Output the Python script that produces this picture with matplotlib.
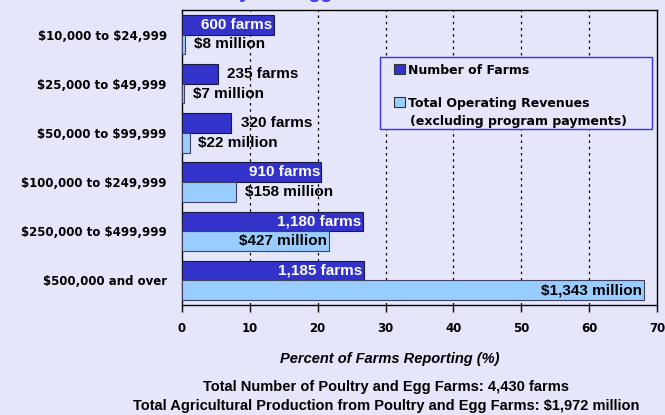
import matplotlib.pyplot as plt
from matplotlib.patches import Rectangle

# sales classes, top to bottom
classes = ["$10,000 to $24,999", "$25,000 to $49,999", "$50,000 to $99,999",
           "$100,000 to $249,999", "$250,000 to $499,999", "$500,000 and over"]
farms = [600, 235, 320, 910, 1180, 1185]
revenue = [8, 7, 22, 158, 427, 1343]          # $ million
total_farms = 4430
total_revenue = 1972
farm_labels = ["600 farms", "235 farms", "320 farms", "910 farms", "1,180 farms", "1,185 farms"]
rev_labels = ["$8 million", "$7 million", "$22 million", "$158 million", "$427 million", "$1,343 million"]
farm_inside = [True, False, False, True, True, True]
rev_inside = [False, False, False, False, True, True]

BG = "#E6E6FA"
DARK = "#3333CC"
LIGHT = "#99CCFF"

farm_pct = [f / total_farms * 100 for f in farms]
rev_pct = [r / total_revenue * 100 for r in revenue]

fig = plt.figure(figsize=(6.65, 4.15), dpi=100, facecolor=BG)
ax = fig.add_axes([182 / 665, 1 - 305 / 415, 475 / 665, 295 / 415])
ax.set_facecolor(BG)

pos = list(range(len(classes)))
ax.barh([p - 0.2 for p in pos], farm_pct, height=0.4, color=DARK, edgecolor="#1a1a40", lw=0.8, zorder=3)
ax.barh([p + 0.2 for p in pos], rev_pct, height=0.4, color=LIGHT, edgecolor="#404060", lw=0.8, zorder=3)

lab = dict(family="Liberation Sans", weight="bold", fontsize=11, va="center", zorder=4, parse_math=False)
for p, v, t, inside in zip(pos, farm_pct, farm_labels, farm_inside):
    if inside:
        ax.text(v - 0.2, p - 0.2, t, ha="right", color="white", **lab)
    else:
        ax.text(v + 1.4, p - 0.2, t, ha="left", color="black", **lab)
for p, v, t, inside in zip(pos, rev_pct, rev_labels, rev_inside):
    if inside:
        ax.text(v - 0.3, p + 0.2, t, ha="right", color="black", **lab)
    else:
        ax.text(v + 1.3, p + 0.2, t, ha="left", color="black", **lab)

ax.set_xlim(0, 70)
ax.set_ylim(5.5, -0.5)
ax.set_yticks(pos)
ax.set_yticklabels(classes, family="DejaVu Sans", weight="bold", fontsize=8.5, parse_math=False)
ax.tick_params(axis="y", length=0, pad=11)
ax.set_xticks(range(0, 71, 10))
ax.set_xticklabels([str(x) for x in range(0, 71, 10)], family="DejaVu Sans", weight="bold", fontsize=8.5)
ax.tick_params(axis="x", direction="out", length=5, width=1, pad=7)
for s in ax.spines.values():
    s.set_color("black")
    s.set_linewidth(1)
for x in range(10, 70, 10):
    ax.axvline(x, color="black", lw=0.9, ls=(0, (2, 3)), zorder=1)


# legend, drawn by hand so the square sits on the first line of text
def px(x, y):
    return ((x - 182) / 475, 1 - (y - 10) / 295)


x0, y0 = px(380, 129)
x1, y1 = px(652, 57)
ax.add_patch(Rectangle((x0, y0), x1 - x0, y1 - y0, transform=ax.transAxes,
                       facecolor=BG, edgecolor="#3333FF", lw=1, zorder=5))
leg = dict(family="DejaVu Sans", weight="bold", fontsize=9, va="center", ha="left",
           transform=ax.transAxes, zorder=6)
for (ytop, color) in [(64, DARK), (97, LIGHT)]:
    sx, sy = px(394, ytop + 10)
    ex, ey = px(405, ytop)
    ax.add_patch(Rectangle((sx, sy), ex - sx, ey - sy, transform=ax.transAxes,
                           facecolor=color, edgecolor="#333333", lw=0.8, zorder=6))
tx, ty = px(408, 70)
ax.text(tx, ty, "Number of Farms", **leg)
tx, ty = px(408, 103)
ax.text(tx, ty, "Total Operating Revenues", **leg)
tx, ty = px(410, 121)
ax.text(tx, ty, "(excluding program payments)", **leg)

fig.text(390 / 665, 1 - 359 / 415, "Percent of Farms Reporting (%)", ha="center", va="center",
         family="Liberation Sans", weight="bold", style="italic", fontsize=10.5)
fig.text(386 / 665, 1 - 387 / 415, "Total Number of Poultry and Egg Farms: 4,430 farms",
         ha="center", va="center", family="Liberation Sans", weight="bold", fontsize=10.5)
fig.text(386 / 665, 1 - 406 / 415, "Total Agricultural Production from Poultry and Egg Farms: $1,972 million",
         ha="center", va="center", family="Liberation Sans", weight="bold", fontsize=10.5,
         parse_math=False)

# title sits mostly above the visible area; only descenders show
fig.text(290 / 665, 1 + 2 / 415, "Poultry and Egg Farms", ha="center", va="baseline",
         family="Liberation Sans", weight="bold", fontsize=14, color="#3333FF")

fig.savefig("out.png", dpi=100, facecolor=BG)
